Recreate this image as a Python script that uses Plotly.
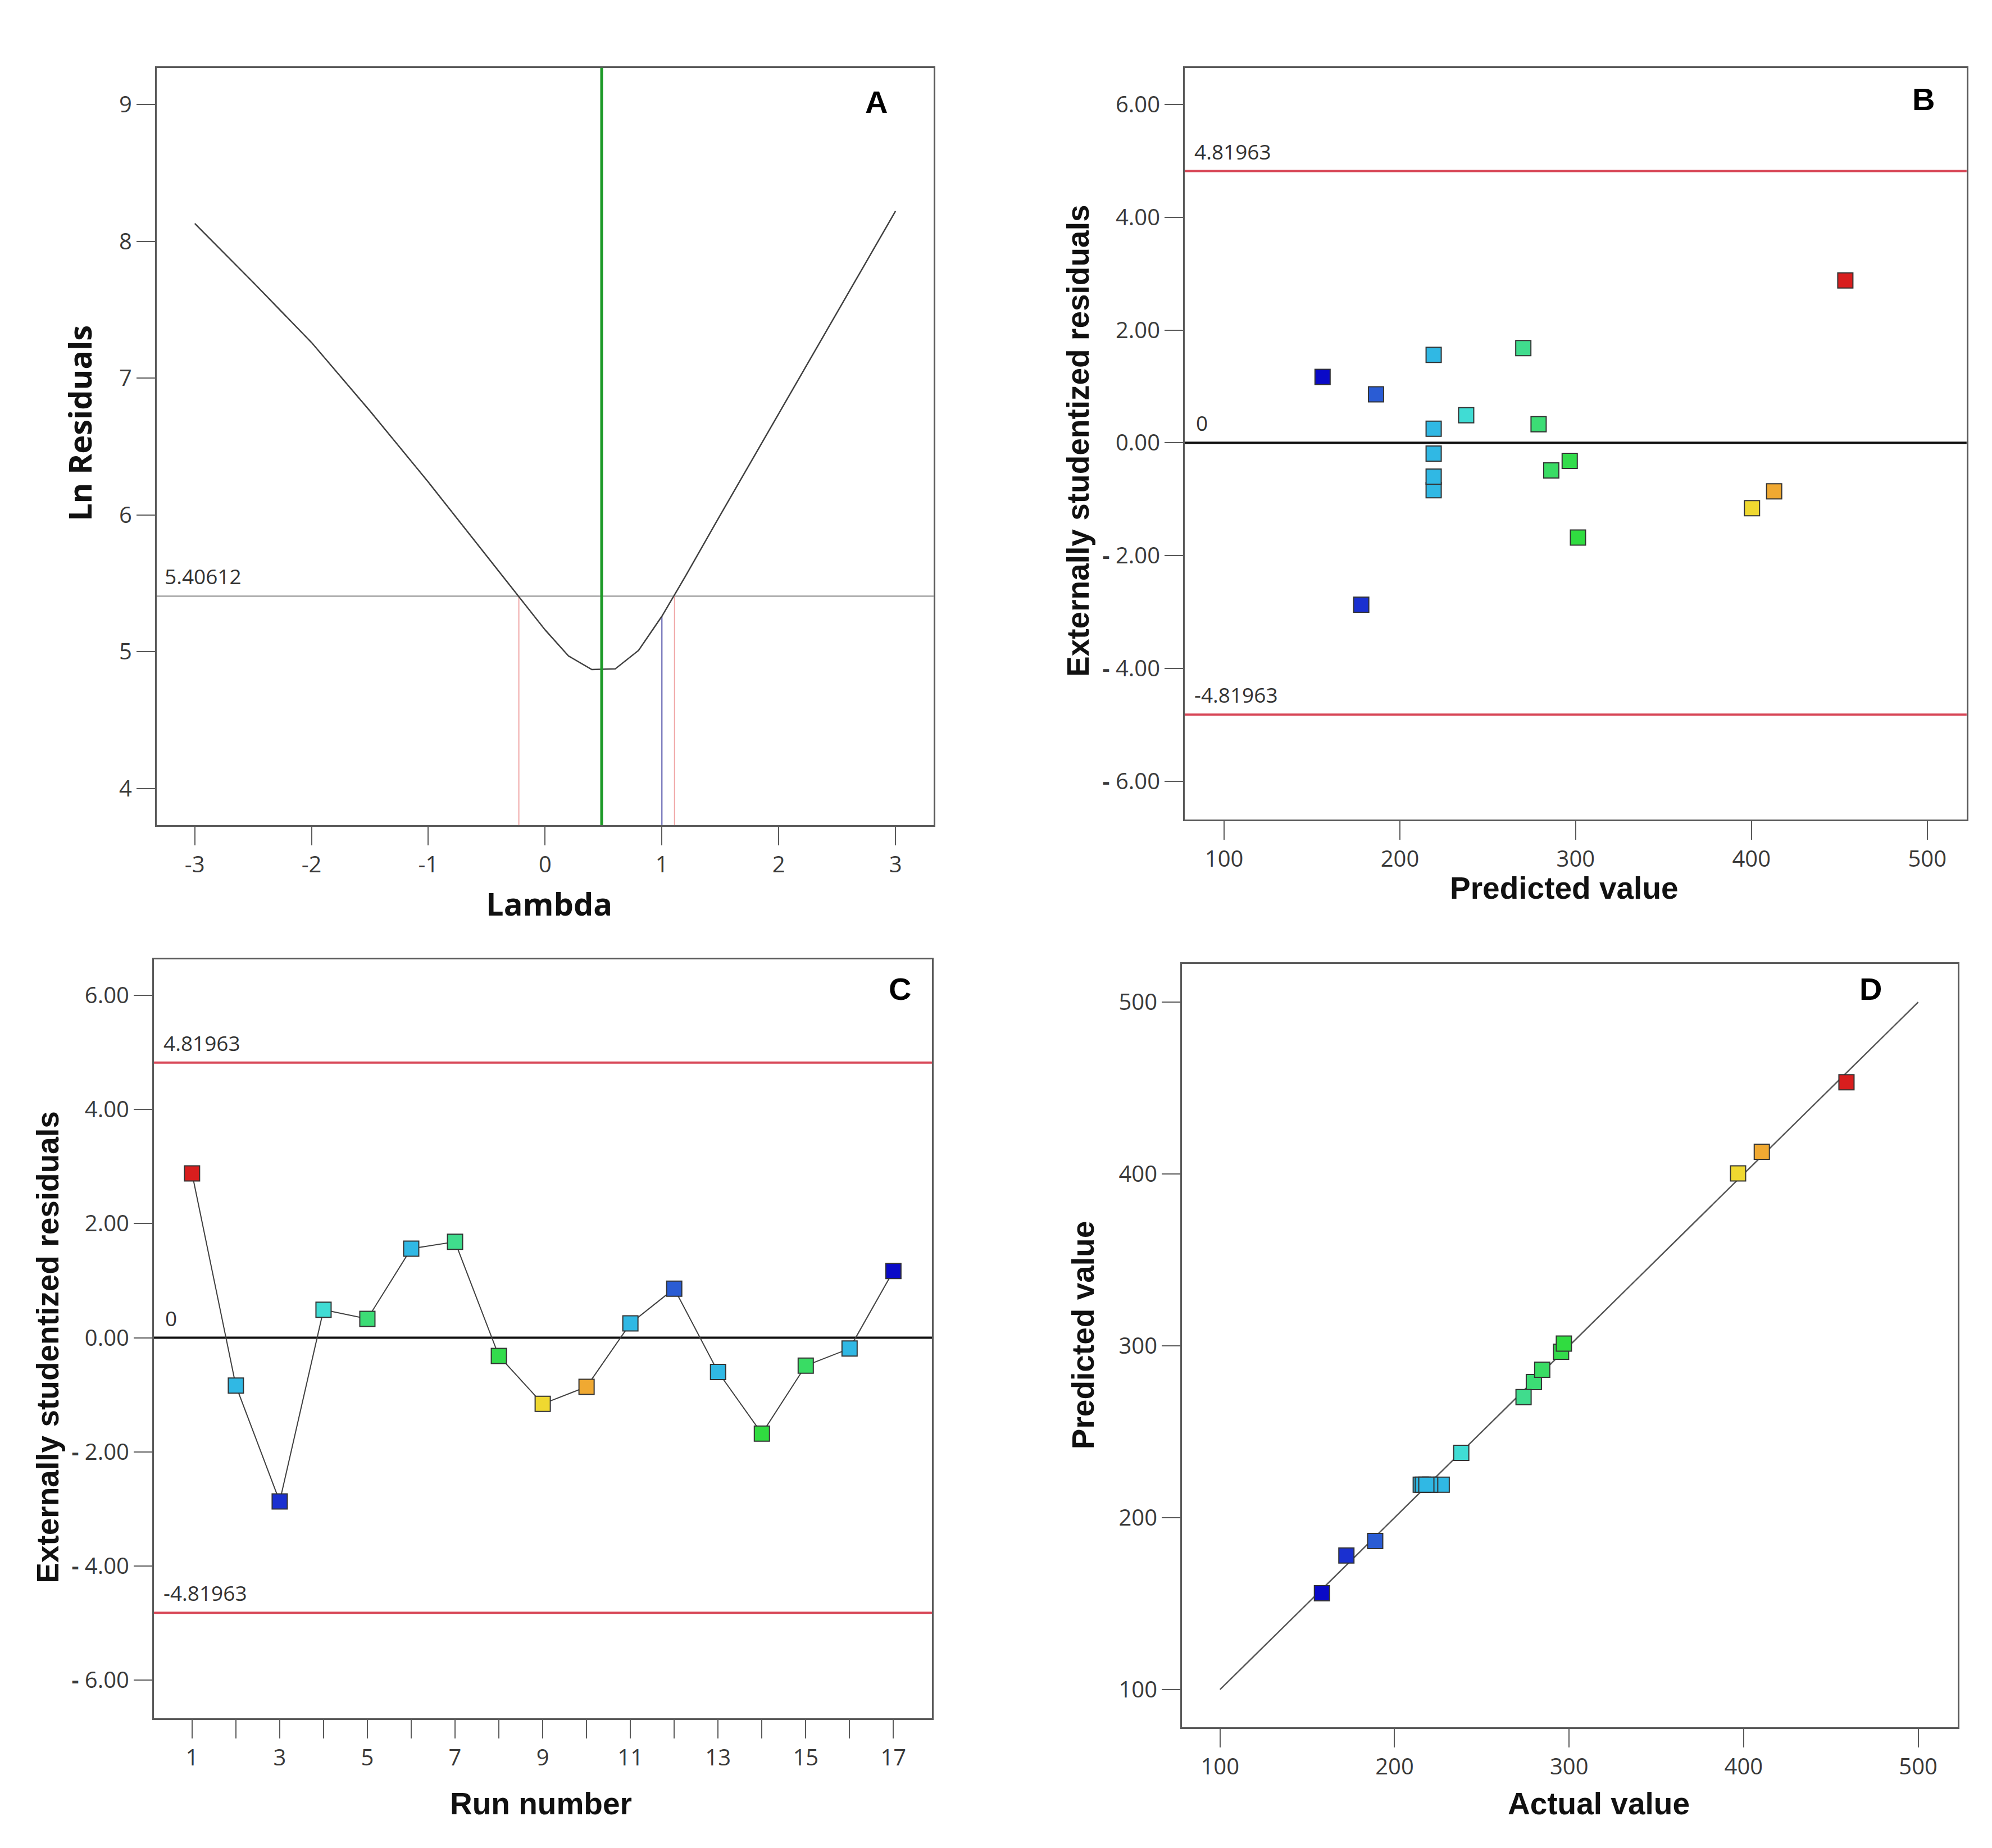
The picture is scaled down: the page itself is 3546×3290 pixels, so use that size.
import plotly.graph_objects as go

# ---------------- data ----------------
# Panel A: Box-Cox curve
lam = [-3, -2.5, -2, -1.5, -1, -0.5, -0.2, 0, 0.2, 0.4, 0.6, 0.8, 1.0, 1.2, 1.5, 2, 2.5, 3]
ln_res = [8.13, 7.70, 7.26, 6.76, 6.24, 5.70, 5.38, 5.16, 4.97, 4.87, 4.875, 5.01, 5.26,
          5.55, 6.00, 6.74, 7.48, 8.22]
lam_best = 0.484
lam_ci_low = -0.225
lam_ci_high = 1.108
lam_current = 1.0
ln_res_current = 5.26
ci_level = 5.40612
ci_label = "5.40612"

# Runs 1..17
run = list(range(1, 18))
predicted = [453.4, 219.2, 178.0, 237.7, 278.9, 219.2, 270.2, 296.6, 400.3, 412.9,
             219.2, 186.4, 219.2, 301.3, 286.1, 219.2, 156.0]
resid = [2.88, -0.84, -2.87, 0.49, 0.33, 1.56, 1.68, -0.32, -1.16, -0.86,
         0.25, 0.86, -0.60, -1.68, -0.49, -0.19, 1.17]
actual = [458.9, 215.0, 172.4, 238.2, 279.8, 227.0, 273.9, 295.4, 396.8, 410.4,
          220.4, 188.9, 216.2, 297.0, 284.6, 218.2, 158.4]

limit = 4.81963
limit_label = "4.81963"
neg_limit_label = "-4.81963"
fit_line = [100, 500]

# tick labels
lam_ticks = [-3, -2, -1, 0, 1, 2, 3]
lam_ticktext = ["-3", "-2", "-1", "0", "1", "2", "3"]
lnres_ticks = [4, 5, 6, 7, 8, 9]
resid_ticks = [-6, -4, -2, 0, 2, 4, 6]
resid_ticktext = ["<b>-</b> 6.00", "<b>-</b> 4.00", "<b>-</b> 2.00", "0.00", "2.00", "4.00", "6.00"]
value_ticks = [100, 200, 300, 400, 500]
run_ticktext = [str(r) if r % 2 == 1 else "" for r in run]

# ---------------- style ----------------
W, H = 3546, 3290
TICK_FONT = dict(family="Open Sans", size=40, color="#3a3a3a")
FRAME = "#5a5a5a"
jet = [
    [0.000, "#0A0AC8"], [0.074, "#1A30D0"], [0.102, "#2A5CD4"], [0.213, "#30B8E4"],
    [0.275, "#40DCD4"], [0.385, "#40DC8C"], [0.414, "#3CDC74"], [0.450, "#38DC5C"],
    [0.489, "#30DC40"], [0.823, "#F0D830"], [0.865, "#F0A832"], [1.000, "#D81E1E"],
]
cmin, cmax = min(predicted), max(predicted)


def axis(domain, rng, tickvals, ticktext=None, anchor=None):
    d = dict(domain=domain, range=rng, tickvals=tickvals, ticks="outside", ticklen=33,
             tickwidth=2, tickcolor=FRAME, showline=True, linecolor=FRAME, linewidth=3,
             mirror=True, showgrid=False, zeroline=False, tickfont=TICK_FONT,
             anchor=anchor, fixedrange=True)
    if ticktext is not None:
        d["ticktext"] = ticktext
    return d


fig = go.Figure()

marker = dict(symbol="square", size=27, color=predicted, colorscale=jet, cmin=cmin,
              cmax=cmax, line=dict(color="#333333", width=2))

# A
fig.add_trace(go.Scatter(x=lam, y=ln_res, mode="lines", line=dict(color="#404040", width=2.5),
                         xaxis="x", yaxis="y", showlegend=False))
# B
fig.add_trace(go.Scatter(x=predicted, y=resid, mode="markers", marker=marker,
                         xaxis="x2", yaxis="y2", showlegend=False))
# C
fig.add_trace(go.Scatter(x=run, y=resid, mode="lines+markers", marker=marker,
                         line=dict(color="#404040", width=2),
                         xaxis="x3", yaxis="y3", showlegend=False))
# D
fig.add_trace(go.Scatter(x=fit_line, y=fit_line, mode="lines", line=dict(color="#555555", width=2.5),
                         xaxis="x4", yaxis="y4", showlegend=False))
fig.add_trace(go.Scatter(x=actual, y=predicted, mode="markers", marker=marker,
                         xaxis="x4", yaxis="y4", showlegend=False))

shapes = []
# A lines
shapes.append(dict(type="line", xref="x domain", yref="y", x0=0, x1=1, y0=ci_level, y1=ci_level,
                   line=dict(color="#b0b0b0", width=3), layer="below"))
for xv in (lam_ci_low, lam_ci_high):
    shapes.append(dict(type="line", xref="x", yref="y", x0=xv, x1=xv, y0=3.733, y1=ci_level,
                       line=dict(color="#F0A8A8", width=2), layer="below"))
shapes.append(dict(type="line", xref="x", yref="y", x0=lam_current, x1=lam_current, y0=3.733,
                   y1=ln_res_current, line=dict(color="#5050A8", width=2), layer="below"))
shapes.append(dict(type="line", xref="x", yref="y domain", x0=lam_best, x1=lam_best, y0=0, y1=1,
                   line=dict(color="#1E9A28", width=5)))
# B and C lines
for ax in ("2", "3"):
    for yv in (limit, -limit):
        shapes.append(dict(type="line", xref=f"x{ax} domain", yref=f"y{ax}", x0=0, x1=1, y0=yv, y1=yv,
                           line=dict(color="#D84858", width=4), layer="below"))
    shapes.append(dict(type="line", xref=f"x{ax} domain", yref=f"y{ax}", x0=0, x1=1, y0=0, y1=0,
                       line=dict(color="#111111", width=4), layer="below"))

ann = []
LBL = dict(family="Open Sans", size=37, color="#333333")
ann.append(dict(text=ci_label, xref="x domain", yref="y", x=0.009, y=ci_level, xanchor="left",
                yanchor="bottom", yshift=8, showarrow=False, font=LBL))
for ax in ("2", "3"):
    ann.append(dict(text=limit_label, xref=f"x{ax} domain", yref=f"y{ax}", x=0.011, y=limit,
                    xanchor="left", yanchor="bottom", yshift=8, showarrow=False, font=LBL))
    ann.append(dict(text=neg_limit_label, xref=f"x{ax} domain", yref=f"y{ax}", x=0.011, y=-limit,
                    xanchor="left", yanchor="bottom", yshift=8, showarrow=False, font=LBL))
    ann.append(dict(text="0", xref=f"x{ax} domain", yref=f"y{ax}", x=0.013, y=0,
                    xanchor="left", yanchor="bottom", yshift=8, showarrow=False, font=LBL))

TITLE_A = dict(family="Open Sans", size=56, color="#111111")
TITLE = dict(family="Liberation Sans", size=55, color="#111111")
titles = [
    ("<b>Ln Residuals</b>", 0.0375, 0.7736, -90, TITLE_A),
    ("<b>Lambda</b>", 0.2735, 0.5137, 0, TITLE_A),
    ("<b>Externally studentized residuals</b>", 0.5389, 0.7641, -90, TITLE),
    ("<b>Predicted value</b>", 0.7831, 0.5219, 0, TITLE),
    ("<b>Externally studentized residuals</b>", 0.0217, 0.2736, -90, TITLE),
    ("<b>Run number</b>", 0.2693, 0.0264, 0, TITLE),
    ("<b>Predicted value</b>", 0.5415, 0.2799, -90, TITLE),
    ("<b>Actual value</b>", 0.8003, 0.0264, 0, TITLE),
]
for t, x, y, ang, f in titles:
    ann.append(dict(text=t, xref="paper", yref="paper", x=x, y=y, xanchor="center",
                    yanchor="middle", textangle=ang, showarrow=False, font=f))
LETTER = dict(family="Liberation Sans", size=56, color="#000000")
for t, x, y in [("A", 0.4377, 0.9474), ("B", 0.9633, 0.9489), ("C", 0.4495, 0.4672), ("D", 0.9368, 0.4672)]:
    ann.append(dict(text=f"<b>{t}</b>", xref="paper", yref="paper", x=x, y=y, xanchor="center",
                    yanchor="middle", showarrow=False, font=LETTER))

fig.update_layout(
    width=W, height=H, margin=dict(l=0, r=0, t=0, b=0),
    paper_bgcolor="white", plot_bgcolor="white", showlegend=False,
    xaxis=axis([0.0764, 0.4664], [-3.326, 3.326], lam_ticks, lam_ticktext, anchor="y"),
    yaxis=axis([0.5559, 0.9657], [3.733, 9.267], lnres_ticks, anchor="x"),
    xaxis2=axis([0.5925, 0.9850], [77.6, 522.4], value_ticks, anchor="y2"),
    yaxis2=axis([0.5590, 0.9657], [-6.68, 6.65], resid_ticks, resid_ticktext, anchor="x2"),
    xaxis3=axis([0.0750, 0.4656], [0.13, 17.88], run, run_ticktext, anchor="y3"),
    yaxis3=axis([0.0726, 0.4833], [-6.67, 6.63], resid_ticks, resid_ticktext, anchor="x3"),
    xaxis4=axis([0.5911, 0.9805], [78.2, 522.6], value_ticks, anchor="y4"),
    yaxis4=axis([0.0678, 0.4809], [78.1, 522.3], value_ticks, anchor="x4"),
    shapes=shapes, annotations=ann,
)

fig.write_html("out.html")
